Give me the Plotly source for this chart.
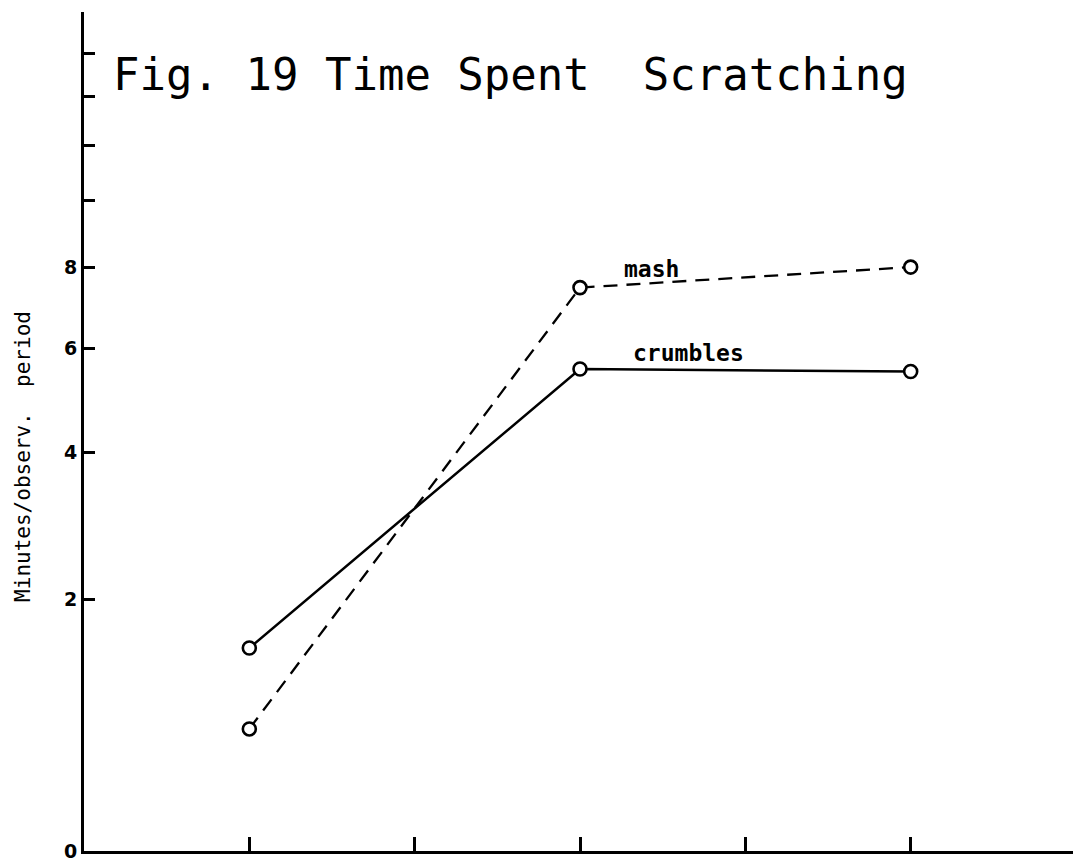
import math
import plotly.graph_objects as go

# ---- data ----
x_vals = [1, 3, 5]
mash = [0.8, 7.45, 8.0]
crumbles = [1.5, 5.55, 5.5]

x_tick_vals = [1, 2, 3, 4, 5, 6]
y_tick_vals = [0, 2, 4, 6, 8, 10, 12, 14, 16]
y_tick_text = ["0", "2", "4", "6", "8", "", "", "", ""]

# The original y scale is logarithmic in (value + 2)
Y_OFFSET = 2

title_text = "Fig. 19 Time Spent\u00a0 Scratching"
y_title = "Minutes/observ.\u00a0 period"

# page body margin offset (browser default 8px)
OFF = 8
W, H = 1073, 858
ML, MR, MT, MB = 76, 5, 4, 11
X_MAX = 6
Y_TOP = 18.2

def sh(vals):
    return [v + Y_OFFSET for v in vals]

fig = go.Figure()

marker = dict(symbol="circle", size=13, color="white",
              line=dict(color="black", width=2.6))

fig.add_trace(go.Scatter(
    x=x_vals, y=sh(crumbles), mode="lines+markers", name="crumbles",
    line=dict(color="black", width=2.5),
    marker=marker, showlegend=False))

fig.add_trace(go.Scatter(
    x=x_vals, y=sh(mash), mode="lines+markers", name="mash",
    line=dict(color="black", width=2.3, dash="14px,9px"),
    marker=marker, showlegend=False))

fig.update_xaxes(
    range=[0, X_MAX], showgrid=False, zeroline=False,
    showline=True, linecolor="black", linewidth=3,
    tickmode="array", tickvals=x_tick_vals, ticktext=["" for _ in x_tick_vals],
    ticks="inside", ticklen=14, tickwidth=2.5, tickcolor="black",
    showticklabels=False)

fig.update_yaxes(
    type="log",
    range=[math.log10(0 + Y_OFFSET), math.log10(Y_TOP + Y_OFFSET)],
    showgrid=False, zeroline=False,
    showline=True, linecolor="black", linewidth=3,
    tickmode="array", tickvals=sh(y_tick_vals), ticktext=y_tick_text,
    ticks="inside", ticklen=11, tickwidth=2.5, tickcolor="black",
    tickfont=dict(family="DejaVu Sans", size=19, color="black", weight="bold"))

plot_w = W - ML - MR
plot_h = H - MT - MB

# window pixel -> paper / data coordinates
def px_to_paper_x(px):
    return (px - OFF - ML) / plot_w

def px_to_paper_y(py):
    return (H - MB - (py - OFF)) / plot_h

def px_to_data_x(px):
    return px_to_paper_x(px) * X_MAX

annotations = [
    dict(text=title_text, xref="paper", yref="paper",
         x=px_to_paper_x(111), y=px_to_paper_y(75), xanchor="left", yanchor="middle",
         showarrow=False,
         font=dict(family="DejaVu Sans Mono", size=44, color="black")),
    dict(text=y_title, xref="paper", yref="paper",
         x=px_to_paper_x(23), y=px_to_paper_y(459), xanchor="center", yanchor="middle",
         textangle=-90, showarrow=False,
         font=dict(family="DejaVu Sans Mono", size=21, color="black")),
    dict(text="mash", xref="x", yref="paper",
         x=px_to_data_x(651), y=px_to_paper_y(270),
         xanchor="center", yanchor="middle", showarrow=False,
         font=dict(family="DejaVu Sans Mono", size=23, color="black", weight="bold")),
    dict(text="crumbles", xref="x", yref="paper",
         x=px_to_data_x(688), y=px_to_paper_y(355),
         xanchor="center", yanchor="middle", showarrow=False,
         font=dict(family="DejaVu Sans Mono", size=23, color="black", weight="bold")),
]

fig.update_layout(
    width=W, height=H,
    margin=dict(l=ML, r=MR, t=MT, b=MB, pad=0),
    paper_bgcolor="white", plot_bgcolor="white",
    annotations=annotations,
    showlegend=False)

fig.write_html("out.html")
